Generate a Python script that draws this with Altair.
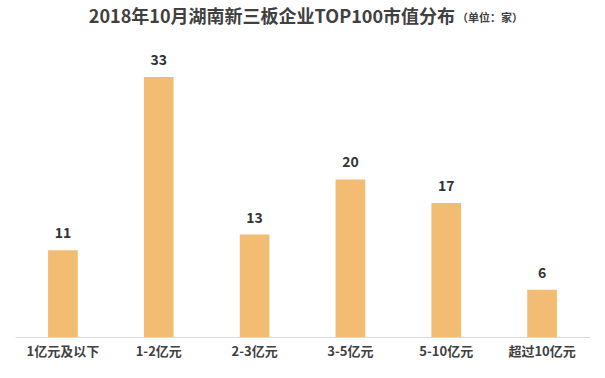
import altair as alt
import pandas as pd

categories = ["1亿元及以下", "1-2亿元", "2-3亿元", "3-5亿元", "5-10亿元", "超过10亿元"]
counts = [11, 33, 13, 20, 17, 6]
title_text = "2018年10月湖南新三板企业TOP100市值分布"
unit_text = "（单位：家）"

df = pd.DataFrame({"cat": categories, "n": counts})
FONT = "Noto Sans CJK SC"

x = alt.X("cat:N", sort=categories, title=None,
          scale=alt.Scale(paddingInner=0.69, paddingOuter=0.345),
          axis=alt.Axis(labelAngle=0, labelFont=FONT, labelFontSize=13, labelFontWeight="bold",
                        labelColor="#404040", ticks=False, grid=False, domainColor="#d9d9d9", labelPadding=8))
y = alt.Y("n:Q", scale=alt.Scale(domain=[0, 33]), axis=None)

base = alt.Chart(df)
bars = base.mark_bar(color="#F2BD73").encode(x=x, y=y)
labels = base.mark_text(dy=-16, font=FONT, fontSize=14, fontWeight="bold", color="#333333").encode(
    x=x, y=y, text="n:Q")
one = base.transform_filter(alt.datum.n == 33)
title = one.mark_text(
    font=FONT, fontSize=18, fontWeight="bold", color="#404040", align="right", baseline="middle"
).encode(x=alt.value(440), y=alt.value(-59), text=alt.value(title_text))
sub = one.mark_text(
    font=FONT, fontSize=11, fontWeight="bold", color="#404040", align="left", baseline="middle"
).encode(x=alt.value(442), y=alt.value(-58), text=alt.value(unit_text))

chart = alt.layer(bars, labels, title, sub).properties(
    width=575, height=260,
    padding={"left": 15, "top": 77, "right": 15, "bottom": 41},
    autosize=alt.AutoSizeParams(type="none"),
    background="white",
).configure_view(stroke=None, strokeWidth=0)

chart.save("out.html", embed_options={"renderer": "svg", "actions": False})
